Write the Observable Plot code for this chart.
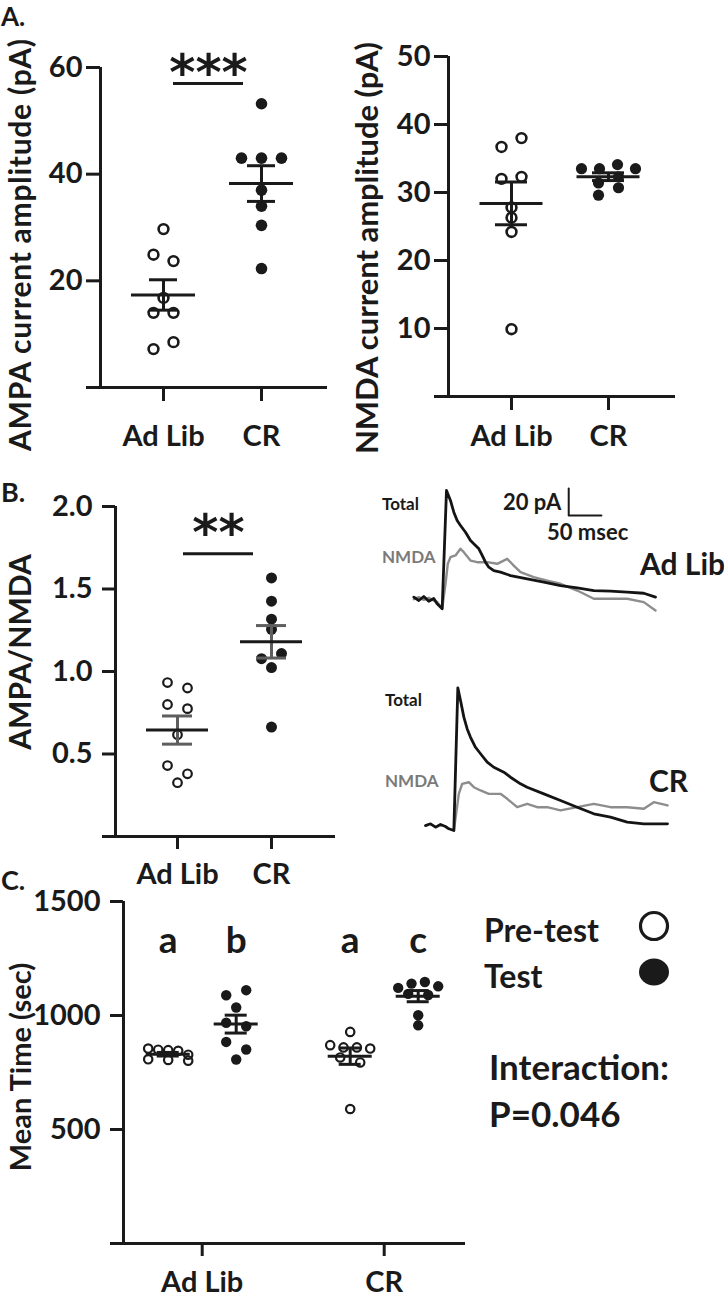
<!DOCTYPE html>
<html><head><meta charset="utf-8">
<script src="https://cdn.jsdelivr.net/npm/d3@7"></script>
<script src="https://cdn.jsdelivr.net/npm/@observablehq/plot@0.6"></script>
<style>
html,body{margin:0;padding:0;background:#fff;}
#page{position:relative;width:724px;height:1299px;overflow:hidden;background:#fff;}
</style></head>
<body><div id="page"></div>
<script>
// ---------------- DATA ----------------
const groups = ["Ad Lib", "CR"];
const phases = ["Pre-test", "Test"];
// Panel A: AMPA and NMDA current amplitude (pA)
const ampaAdLib = [29.7, 24.9, 23.7, 16.8, 14.0, 14.0, 7.2, 8.5];
const ampaCR = [53.2, 43.0, 43.0, 43.0, 37.0, 34.0, 30.4, 22.3];
const ampaTicks = [20, 40, 60];
const nmdaAdLib = [36.7, 38.0, 32.0, 32.3, 27.8, 26.3, 24.2, 9.9];
const nmdaCR = [33.5, 33.5, 34.1, 33.5, 31.4, 32.3, 29.6, 30.7];
const nmdaTicks = [10, 20, 30, 40, 50];
const sigA = {label: "***", y: 57};
// Panel B: AMPA/NMDA ratio
const ratioAdLib = [0.933, 0.90, 0.80, 0.775, 0.617, 0.43, 0.38, 0.326];
const ratioCR = [1.567, 1.426, 1.317, 1.256, 1.078, 1.109, 1.024, 0.663];
const ratioTicks = [0.5, 1.0, 1.5, 2.0];
const sigB = {label: "**", y: 1.713};
// Panel B traces: [time ms from stimulus, current pA from baseline]
const adLibTotal = [[-43.8,1],[-36.2,-1.5],[-28.6,1.5],[-21,-2],[-13.4,0],[-8.2,-3.9],[-0.5,-7.6],[6.1,80],[12.2,72.6],[17.3,63.9],[22.4,57.8],[27.5,54.1],[35.2,49.1],[42.8,43],[50.5,39.3],[55.6,36.8],[60.7,31.9],[65.7,26.9],[70.8,23.2],[78.4,20.7],[88.7,19.5],[104,17],[129.5,14.6],[154.9,12.1],[180.4,9.6],[206,7.9],[231.4,5.9],[256.9,5.4],[282.4,4.7],[307.8,3.9],[325.7,1]];
const adLibNMDA = [[-43.8,-0.5],[-36.2,1],[-28.6,-1],[-21,0.5],[-13.4,-1.5],[-8.2,-2.5],[-0.5,-7.6],[4.6,10.9],[8.1,25.7],[12.2,30.6],[19.9,31.9],[27.5,36.8],[32.6,34.3],[42.8,28.1],[53,26.9],[68.3,26.9],[83.6,25.7],[98.9,29.4],[109,24.4],[119.3,19.5],[139.6,15.8],[160.1,13.3],[180.4,10.9],[206,5.9],[231.4,-0.2],[256.9,-0.2],[282.4,-0.2],[307.8,-2.7],[325.7,-8.9]];
const crTotal = [[-44.3,0.7],[-36.7,2],[-29,-0.5],[-21.4,1.5],[-13.8,0],[-8.7,-1.7],[-1,-3],[5.1,102.7],[9.2,93.3],[14.3,81],[19.4,72.3],[24.5,66.1],[32.1,58.7],[39.8,53.9],[50,47.7],[60.1,43.9],[75.4,40.2],[85.6,36.5],[100.9,31.6],[111.1,29.1],[136.6,24.2],[162.1,19.3],[187.6,14.3],[213,9.4],[238.5,6.9],[264.1,3.2],[289.5,2],[325.7,2]];
const crNMDA = [[-1,-3],[6.6,24.2],[11.7,31.6],[21.9,32.8],[29.6,29.1],[39.8,26.7],[52.5,24.2],[70.3,24.2],[80.6,20.5],[95.9,14.3],[111.1,16.8],[126.4,14.3],[141.7,14.3],[162.1,11.9],[187.6,14.3],[213,16.8],[238.5,14.3],[264.1,14.3],[289.5,13.1],[304.7,18],[325.7,15.6]];
const scaleBar = {ms: 50, pA: 20};
// Panel C: mean time (sec)
const timeAdLibPre = [855, 850, 848, 845, 828, 808, 805, 802];
const timeAdLibTest = [1089, 1111, 1035, 968, 953, 884, 851, 807];
const timeCRPre = [928, 870, 860, 860, 855, 816, 794, 590];
const timeCRTest = [1121, 1140, 1147, 1128, 1095, 1090, 1001, 957];
const timeTicks = [500, 1000, 1500];
const letters = ["a", "b", "a", "c"];
const interaction = "P=0.046";

// ---------------- STYLE ----------------
const INK = "#1a1a1a";
const FONT = "Lato, 'Open Sans', sans-serif";
const FS = 29;
const page = document.getElementById("page");

function place(el, left, top) {
  el.style.position = "absolute";
  el.style.left = left + "px";
  el.style.top = top + "px";
  page.appendChild(el);
}

// GraphPad-like scatter: points within a band of similar values share a row
function rowOffsets(values, yPx, thresh, spacing, span) {
  const idx = d3.range(values.length).sort((a, b) => values[b] - values[a]);
  const off = new Array(values.length).fill(0);
  let i = 0;
  while (i < idx.length) {
    const y0 = yPx(values[idx[i]]);
    const row = [idx[i]];
    let j = i + 1;
    while (j < idx.length && Math.abs(yPx(values[idx[j]]) - y0) < thresh) { row.push(idx[j]); j++; }
    row.sort((a, b) => a - b);
    const n = row.length;
    const s = n > 1 ? Math.min(spacing, span / (n - 1)) : 0;
    row.forEach((k, m) => off[k] = (m - (n - 1) / 2) * s);
    i = j;
  }
  return off;
}

function scatter(L) {
  const u = px => 1 + (px - L.c1) / L.unit;
  const yPx = d3.scaleLinear([0, L.yMax], [L.yBot, L.yTop]);
  const marks = [
    Plot.ruleY([0], {x1: u(L.xStart), x2: u(L.xEnd), stroke: INK, strokeWidth: 3}),
    Plot.ruleX([u(L.axis)], {y1: 0, y2: L.yMax, stroke: INK, strokeWidth: 3}),
    Plot.axisY({ticks: L.ticks, tickFormat: L.fmt, tickSize: L.tick, tickPadding: L.yPad, label: null,
      strokeWidth: 3, fontSize: FS, fontWeight: 700, fontFamily: FONT}),
    Plot.axisX({ticks: [1, 2], tickFormat: d => groups[d - 1], tickSize: L.tick, label: null,
      tickPadding: L.labelBase - L.yBot - L.tick - 0.71 * FS,
      strokeWidth: 3, fontSize: FS, fontWeight: 700, fontFamily: FONT})
  ];
  const stats = [];
  for (const s of L.series) {
    const off = rowOffsets(s.values, yPx, L.rowThresh, L.rowSpacing, L.rowSpan);
    const pts = s.values.map((v, i) => ({x: s.x + off[i] / L.unit, y: v}));
    marks.push(Plot.dot(pts, {x: "x", y: "y", r: s.filled ? L.rFill : L.rOpen,
      fill: s.filled ? INK : "none", stroke: INK, strokeWidth: s.filled ? 0 : L.sw}));
    const m = d3.mean(s.values), se = d3.deviation(s.values) / Math.sqrt(s.values.length);
    stats.push({x: s.x, mean: m, lo: m - se, hi: m + se});
  }
  const half = w => d => [d.x - w / 2 / L.unit, d.x + w / 2 / L.unit];
  marks.push(
    Plot.ruleX(stats, {x: "x", y1: "lo", y2: "hi", stroke: L.semColor, strokeWidth: 3}),
    Plot.ruleY(stats, {y: "hi", x1: d => half(L.capW)(d)[0], x2: d => half(L.capW)(d)[1], stroke: L.semColor, strokeWidth: 3}),
    Plot.ruleY(stats, {y: "lo", x1: d => half(L.capW)(d)[0], x2: d => half(L.capW)(d)[1], stroke: L.semColor, strokeWidth: 3}),
    Plot.ruleY(stats, {y: "mean", x1: d => half(L.meanW)(d)[0], x2: d => half(L.meanW)(d)[1], stroke: INK, strokeWidth: 3})
  );
  if (L.sig) {
    marks.push(
      Plot.ruleY([L.sig.y], {x1: u(L.sig.x1), x2: u(L.sig.x2), stroke: INK, strokeWidth: 3}),
      Plot.text([L.sig.label], {x: u((L.sig.x1 + L.sig.x2) / 2), y: L.sig.y, text: d => d, dy: L.sig.dy,
        lineAnchor: "bottom", fontSize: 50, fontWeight: 700, fontFamily: "DejaVu Sans", fill: INK})
    );
  }
  if (L.extra) marks.push(...L.extra(u));
  const svg = Plot.plot({
    width: L.w, height: L.h,
    marginLeft: L.axis - L.ox, marginRight: L.ox + L.w - L.xEnd,
    marginTop: L.yTop - L.oy, marginBottom: L.oy + L.h - L.yBot,
    x: {domain: [u(L.axis), u(L.xEnd)], label: null},
    y: {domain: [0, L.yMax], label: null},
    style: {background: "transparent", color: INK, fontFamily: FONT, fontWeight: 700, overflow: "visible"},
    marks
  });
  place(svg, L.ox, L.oy);
}

// Panel A left: AMPA
scatter({ox: 40, oy: 30, w: 300, h: 430, c1: 163, unit: 98, axis: 100, xStart: 86, xEnd: 327,
  yTop: 67, yBot: 387, yMax: 60, ticks: ampaTicks, fmt: d => String(d), tick: 14, yPad: 4, labelBase: 445,
  rowThresh: 10, rowSpacing: 20, rowSpan: 54, rOpen: 4.9, rFill: 5.8, sw: 2.6,
  meanW: 64, capW: 28, semColor: INK,
  series: [{x: 1, values: ampaAdLib, filled: false}, {x: 2, values: ampaCR, filled: true}],
  sig: {...sigA, x1: 173, x2: 243, dy: 6}});

// Panel A right: NMDA
scatter({ox: 380, oy: 30, w: 320, h: 430, c1: 511, unit: 97, axis: 448, xStart: 434, xEnd: 675,
  yTop: 56, yBot: 396, yMax: 50, ticks: nmdaTicks, fmt: d => String(d), tick: 14, yPad: 4, labelBase: 445,
  rowThresh: 10, rowSpacing: 20, rowSpan: 54, rOpen: 4.9, rFill: 5.6, sw: 2.6,
  meanW: 63, capW: 32, semColor: INK,
  series: [{x: 1, values: nmdaAdLib, filled: false}, {x: 2, values: nmdaCR, filled: true}]});

// Panel B: ratio
scatter({ox: 40, oy: 470, w: 310, h: 420, c1: 177, unit: 94, axis: 115, xStart: 102, xEnd: 335,
  yTop: 506, yBot: 836, yMax: 2, ticks: ratioTicks, fmt: d => d.toFixed(1), tick: 13, yPad: 10, labelBase: 883,
  rowThresh: 10, rowSpacing: 20, rowSpan: 54, rOpen: 4.3, rFill: 5.5, sw: 2.2,
  meanW: 62, capW: 30, semColor: "#5e5e5e",
  series: [{x: 1, values: ratioAdLib, filled: false}, {x: 2, values: ratioCR, filled: true}],
  sig: {...sigB, x1: 183, x2: 253, dy: -4}});

// Panel C: mean time
const sub = 34 / 182;
const cSeries = [
  {x: 1 - sub, values: timeAdLibPre, filled: false},
  {x: 1 + sub, values: timeAdLibTest, filled: true},
  {x: 2 - sub, values: timeCRPre, filled: false},
  {x: 2 + sub, values: timeCRTest, filled: true}
];
scatter({ox: 30, oy: 880, w: 450, h: 419, c1: 201.7, unit: 182, axis: 123, xStart: 110, xEnd: 465,
  yTop: 901, yBot: 1243, yMax: 1500, ticks: timeTicks, fmt: d => String(d), tick: 13, yPad: 10, labelBase: 1291,
  rowThresh: 10, rowSpacing: 20, rowSpan: 40, rOpen: 4.2, rFill: 5.2, sw: 2.2,
  meanW: 44, capW: 22, semColor: INK,
  series: cSeries,
  extra: u => [Plot.text(letters, {x: (d, i) => cSeries[i].x, y: 1272, text: d => d, lineAnchor: "bottom",
    fontSize: 37, fontWeight: 700, fontFamily: FONT, fill: INK})]});

// Traces
function traces({ox, oy, w, h, originX, baseY, total, nmda, bar}) {
  const pxMs = 0.654, pxPa = 1.35;
  const marks = [
    Plot.line(nmda, {x: d => d[0], y: d => d[1], stroke: "#8d8d8d", strokeWidth: 2.4}),
    Plot.line(total, {x: d => d[0], y: d => d[1], stroke: "#141414", strokeWidth: 2.8})
  ];
  if (bar) {
    const t0 = 193, a0 = 61.5;
    marks.push(Plot.line([[t0, a0 + scaleBar.pA], [t0, a0], [t0 + scaleBar.ms, a0]],
      {x: d => d[0], y: d => d[1], stroke: INK, strokeWidth: 2}));
  }
  const svg = Plot.plot({
    width: w, height: h,
    x: {domain: [-50, 350], range: [originX - ox - 50 * pxMs, originX - ox + 350 * pxMs], axis: null},
    y: {domain: [-20, 110], range: [baseY - oy + 20 * pxPa, baseY - oy - 110 * pxPa], axis: null},
    style: {background: "transparent", overflow: "visible"},
    marks
  });
  place(svg, ox, oy);
}
traces({ox: 362, oy: 470, w: 320, h: 160, originX: 442, baseY: 598, total: adLibTotal, nmda: adLibNMDA, bar: true});
traces({ox: 362, oy: 650, w: 320, h: 200, originX: 454, baseY: 826, total: crTotal, nmda: crNMDA, bar: false});

// Overlay texts
const ov = d3.create("svg").attr("width", 724).attr("height", 1299)
  .style("font-family", FONT).style("font-weight", 700);
const texts = [
  {t: "A.", x: 1, y: 26, fs: 26},
  {t: "B.", x: 1, y: 502, fs: 27},
  {t: "C.", x: 1, y: 890, fs: 27},
  {t: "AMPA current amplitude (pA)", x: 31, y: 245, fs: 30, len: 412, rot: true},
  {t: "NMDA current amplitude (pA)", x: 378, y: 248, fs: 31, len: 412, rot: true},
  {t: "AMPA/NMDA", x: 31, y: 652, fs: 30, rot: true},
  {t: "Mean Time (sec)", x: 31, y: 1067, fs: 29, rot: true},
  {t: phases[0], x: 484, y: 942, fs: 32},
  {t: phases[1], x: 484, y: 988, fs: 32},
  {t: "Interaction:", x: 489, y: 1080, fs: 35},
  {t: interaction, x: 489, y: 1127, fs: 35},
  {t: "Total", x: 382, y: 510, fs: 17},
  {t: "NMDA", x: 382, y: 563, fs: 17, fill: "#7a7a7a"},
  {t: `${scaleBar.pA} pA`, x: 503, y: 510, fs: 22},
  {t: `${scaleBar.ms} msec`, x: 547, y: 540, fs: 22},
  {t: groups[0], x: 640, y: 575, fs: 30},
  {t: "Total", x: 385, y: 706, fs: 17},
  {t: "NMDA", x: 385, y: 787, fs: 17, fill: "#7a7a7a"},
  {t: groups[1], x: 649, y: 792, fs: 30}
];
for (const d of texts) {
  const el = ov.append("text").text(d.t).attr("font-size", d.fs).attr("fill", d.fill || INK);
  if (d.len) el.attr("textLength", d.len).attr("lengthAdjust", "spacing");
  if (d.rot) el.attr("text-anchor", "middle").attr("transform", `translate(${d.x},${d.y}) rotate(-90)`);
  else el.attr("x", d.x).attr("y", d.y);
}
ov.append("circle").attr("cx", 654).attr("cy", 926).attr("r", 13.5).attr("fill", "none").attr("stroke", INK).attr("stroke-width", 3.2);
ov.append("ellipse").attr("cx", 654).attr("cy", 972).attr("rx", 15).attr("ry", 13.5).attr("fill", INK);
const ovn = ov.node();
ovn.style.pointerEvents = "none";
place(ovn, 0, 0);
</script>
</body></html>
